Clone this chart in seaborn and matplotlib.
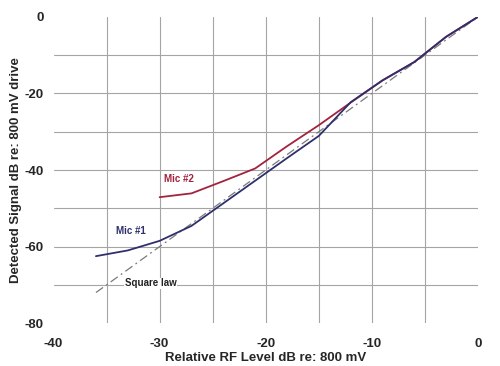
import matplotlib
matplotlib.use("Agg")
import matplotlib.pyplot as plt
import numpy as np
import pandas as pd
import seaborn as sns

# values
rf_level = [-36, -33, -30, -27, -24, -21, -18, -15, -12, -9, -6, -3, 0]
mic1_signal = [-62.5, -61.0, -58.5, -54.6, -48.7, -42.8, -36.9, -31.1, -22.3, -16.6, -11.8, -5.2, 0.0]
mic2_level = [-30, -27, -24, -21, -18, -15, -12, -9, -6, -3, 0]
mic2_signal = [-47.1, -46.1, -42.9, -39.6, -33.8, -28.3, -22.4, -16.6, -11.8, -5.2, 0.0]
square_level = [-36, 0]
square_signal = [-72, 0]

x_ticks = [-40, -35, -30, -25, -20, -15, -10, -5, 0]
x_tick_labels = ["-40", "", "-30", "", "-20", "", "-10", "", "0"]
y_ticks = [0, -10, -20, -30, -40, -50, -60, -70, -80]
y_tick_labels = ["0", "", "-20", "", "-40", "", "-60", "", "-80"]

NAVY = "#2f2f6d"
CRIMSON = "#a3233d"

sns.set_theme(style="white")
plt.rcParams["font.family"] = ["Liberation Sans", "DejaVu Sans"]

mic1 = pd.DataFrame({"level": rf_level, "signal": mic1_signal})
mic2 = pd.DataFrame({"level": mic2_level, "signal": mic2_signal})
square = pd.DataFrame({"level": square_level, "signal": square_signal})

fig = plt.figure(figsize=(5.0, 3.66), dpi=100)
ax = fig.add_axes([0.107, 0.117, 0.849, 0.837])

sns.lineplot(data=square, x="level", y="signal", ax=ax, color="#7a7a7a",
             linewidth=0.9, dashes=False, estimator=None)
ax.lines[-1].set_dashes([7, 3, 1.5, 3])
sns.lineplot(data=mic2, x="level", y="signal", ax=ax, color=CRIMSON,
             linewidth=1.3, estimator=None)
sns.lineplot(data=mic1, x="level", y="signal", ax=ax, color=NAVY,
             linewidth=1.3, estimator=None)

ax.set_xlim(-40, 0)
ax.set_ylim(-80, 0)
ax.set_xticks(x_ticks)
ax.set_xticklabels(x_tick_labels)
ax.set_yticks(y_ticks)
ax.set_yticklabels(y_tick_labels)

ax.grid(True, color="#a4a4a4", linewidth=0.8)
# no grid line on the outer edges
for lines in (ax.get_xgridlines(), ax.get_ygridlines()):
    lines[0].set_visible(False)
    lines[-1].set_visible(False)
ax.set_axisbelow(True)

for side in ax.spines.values():
    side.set_visible(False)
ax.tick_params(axis="both", direction="inout", length=6, width=0.7,
               color="#b0b0b0", labelsize=9.5)
ax.tick_params(axis="x", pad=7.5)
ax.tick_params(axis="y", pad=4)
for lab in ax.get_xticklabels() + ax.get_yticklabels():
    lab.set_fontweight("bold")

ax.set_xlabel("Relative RF Level dB re: 800 mV", fontsize=9.5,
              fontweight="bold", labelpad=1.5)
ax.set_ylabel("Detected Signal dB re: 800 mV drive", fontsize=9.5,
              fontweight="bold", labelpad=1.5)

ax.text(-34.1, -55.9, "Mic #1", color=NAVY, fontsize=7, fontweight="bold",
        va="center", ha="left")
ax.text(-29.6, -42.4, "Mic #2", color=CRIMSON, fontsize=7, fontweight="bold",
        va="center", ha="left")
ax.text(-33.3, -69.6, "Square law", color="#222222", fontsize=7,
        fontweight="bold", va="center", ha="left",
        bbox=dict(facecolor="white", edgecolor="none", pad=0.5))

fig.savefig("out.png", dpi=100)
